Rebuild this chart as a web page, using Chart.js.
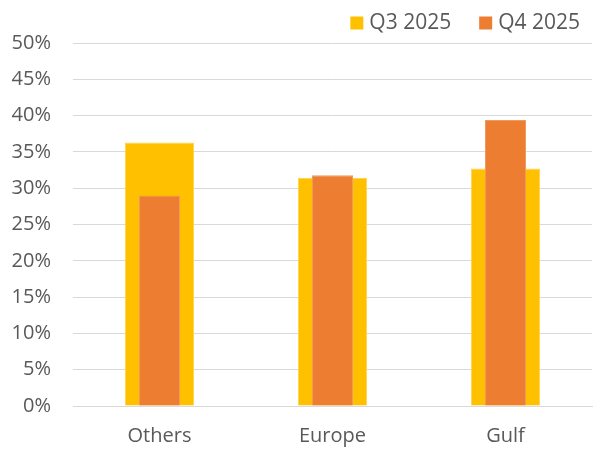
<!DOCTYPE html>
<html>
<head>
<meta charset="utf-8">
<script src="https://cdn.jsdelivr.net/npm/chart.js@4"></script>
<style>
  html, body { margin: 0; padding: 0; background: #fff; }
  #wrap { width: 597px; height: 454px; }
</style>
</head>
<body>
<div id="wrap"><canvas id="myChart" width="597" height="454"></canvas></div>
<script>
// data
var categories = ['Others', 'Europe', 'Gulf'];
var q3 = [36.3, 31.4, 32.7];
var q4 = [29.0, 31.8, 39.4];
var yTicks = [0, 5, 10, 15, 20, 25, 30, 35, 40, 45, 50];

var textColor = '#595959';
var fontName = 'Open Sans';

// excel style legend: small squares, tight gap to the text, right aligned
var topLegend = {
    id: 'topLegend',
    afterDraw: function (chart) {
        var c = chart.ctx;
        var sets = chart.data.datasets;
        var box = 13, gap = 6, itemGap = 28;
        var x = 580, y = 23;
        c.save();
        c.font = '21px "' + fontName + '"';
        c.textBaseline = 'middle';
        c.textAlign = 'left';
        for (var i = sets.length - 1; i >= 0; i--) {
            var w = c.measureText(sets[i].label).width;
            var tx = x - w;
            c.fillStyle = textColor;
            c.fillText(sets[i].label, tx, y);
            c.fillStyle = sets[i].backgroundColor;
            c.fillRect(tx - gap - box, y - box / 2, box, box);
            x = tx - gap - box - itemGap;
        }
        c.restore();
    }
};

var ctx = document.getElementById('myChart').getContext('2d');

var mychart = new Chart(ctx, {
    type: 'bar',
    data: {
        labels: categories,
        datasets: [
            {
                label: 'Q3 2025',
                data: q3,
                backgroundColor: '#FFC000',
                borderColor: '#FFD34D',
                borderWidth: 1,
                grouped: false,
                categoryPercentage: 1,
                barPercentage: 0.4,
                order: 2
            },
            {
                label: 'Q4 2025',
                data: q4,
                backgroundColor: '#ED7D31',
                borderColor: '#F19A5E',
                borderWidth: 1,
                grouped: false,
                categoryPercentage: 1,
                barPercentage: 0.237,
                order: 1
            }
        ]
    },
    plugins: [topLegend],
    options: {
        responsive: false,
        animation: false,
        layout: {
            padding: { left: 0, right: 5, top: 43, bottom: 0 }
        },
        plugins: {
            legend: { display: false },
            tooltip: { enabled: false }
        },
        scales: {
            x: {
                afterFit: function (scale) { scale.height = 48; },
                grid: { display: false, drawTicks: false },
                border: { display: true, color: '#D9D9D9', width: 1 },
                ticks: {
                    color: textColor,
                    font: { family: fontName, size: 20 },
                    padding: 18
                }
            },
            y: {
                min: 0,
                max: 50,
                afterFit: function (scale) { scale.width = 73; },
                afterBuildTicks: function (axis) {
                    axis.ticks = yTicks.map(function (v) { return { value: v }; });
                },
                grid: { color: '#D9D9D9', lineWidth: 1, drawTicks: false },
                border: { display: false },
                ticks: {
                    color: textColor,
                    font: { family: fontName, size: 20 },
                    padding: 22,
                    callback: function (v) { return v + '%'; }
                }
            }
        }
    }
});
</script>
</body>
</html>
